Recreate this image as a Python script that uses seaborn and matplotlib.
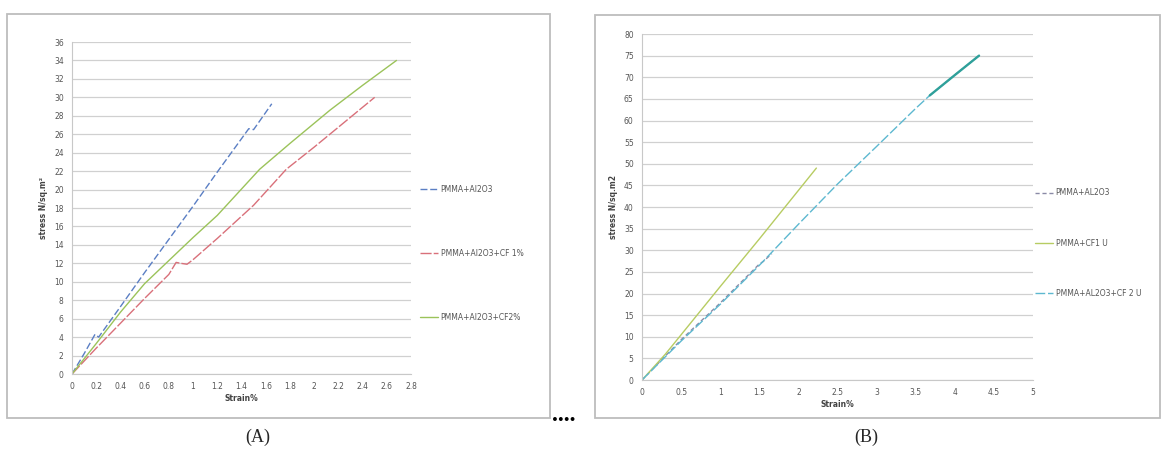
import matplotlib
matplotlib.use('Agg')
import matplotlib.pyplot as plt
from matplotlib.patches import Rectangle
import seaborn as sns

# Panel A data (strain %, stress)
a_al2o3_x = [0, 0.1, 0.19, 0.22, 0.4, 0.6, 0.8, 1.0, 1.2, 1.46, 1.5, 1.65]
a_al2o3_y = [0, 2.2, 4.3, 4.0, 7.3, 11.0, 14.6, 18.2, 21.9, 26.6, 26.5, 29.3]
a_cf1_x = [0, 0.2, 0.4, 0.6, 0.8, 0.86, 0.9, 0.95, 1.0, 1.2, 1.5, 1.77, 2.0, 2.25, 2.5]
a_cf1_y = [0, 2.8, 5.5, 8.2, 10.8, 12.1, 12.0, 11.9, 12.4, 14.7, 18.3, 22.2, 24.6, 27.3, 30.0]
a_cf2_x = [0, 0.2, 0.4, 0.6, 0.8, 1.0, 1.2, 1.55, 1.8, 2.13, 2.4, 2.68]
a_cf2_y = [0, 3.3, 6.7, 9.8, 12.3, 14.8, 17.2, 22.2, 25.0, 28.6, 31.3, 34.0]
a_labels = ['PMMA+Al2O3', 'PMMA+Al2O3+CF 1%', 'PMMA+Al2O3+CF2%']

# Panel B data
b_al2o3_x = [0, 0.5, 1.0, 1.5, 1.55, 1.66]
b_al2o3_y = [0, 9.3, 17.8, 26.8, 27.4, 29.2]
b_cf1_x = [0, 0.3, 1.0, 1.5, 2.23]
b_cf1_y = [0, 6.0, 21.6, 32.6, 49.0]
b_cf2_x = [0, 0.5, 1.0, 1.5, 2.0, 2.5, 3.0, 3.5, 3.68, 4.0, 4.31]
b_cf2_y = [0, 9.0, 17.5, 26.5, 36.0, 45.3, 54.0, 62.8, 65.8, 70.5, 75.0]
b_labels = ['PMMA+AL2O3', 'PMMA+CF1 U', 'PMMA+AL2O3+CF 2 U']

sns.set_style('white')
plt.rcParams['font.family'] = ['DejaVu Sans']

fig = plt.figure(figsize=(11.64, 4.71), dpi=100)
W, H = 1164, 471


def px_axes(l, t, r, b):
    return fig.add_axes([l / W, 1 - b / H, (r - l) / W, (b - t) / H])


def style_axes(ax, xmax, xstep, ymax, ystep, ylabel):
    ax.set_xlim(0, xmax)
    ax.set_ylim(0, ymax)
    xt = [round(i * xstep, 2) for i in range(int(round(xmax / xstep)) + 1)]
    yt = [round(i * ystep, 2) for i in range(int(round(ymax / ystep)) + 1)]
    ax.set_xticks(xt)
    ax.set_yticks(yt)
    ax.set_xticklabels([f'{v:g}' for v in xt])
    ax.set_yticklabels([f'{v:g}' for v in yt])
    ax.tick_params(labelsize=5.5, colors='#555555', length=0, pad=6)
    ax.yaxis.grid(True, color='#D0D0D0', lw=0.9)
    ax.xaxis.grid(False)
    for s in ['top', 'right']:
        ax.spines[s].set_visible(False)
    ax.spines['left'].set_color('#C8C8C8')
    ax.spines['bottom'].set_color('#C8C8C8')
    ax.set_xlabel('Strain%', fontsize=5.5, fontweight='bold', color='#444444', labelpad=2)
    ax.set_ylabel(ylabel, fontsize=5.5, fontweight='bold', color='#444444', labelpad=4)


# panel frames
fig.patches.append(Rectangle((7 / W, 1 - 418 / H), 543 / W, 404 / H, transform=fig.transFigure,
                             fill=False, edgecolor='#BDBDBD', lw=1.3))
fig.patches.append(Rectangle((595 / W, 1 - 418 / H), 565 / W, 403 / H, transform=fig.transFigure,
                             fill=False, edgecolor='#BDBDBD', lw=1.3))

# Panel A
axA = px_axes(72, 42, 411, 374)
sns.lineplot(x=a_al2o3_x, y=a_al2o3_y, ax=axA, color='#5B7FC4', lw=1.0, linestyle=(0, (5, 2)),
             label=a_labels[0], sort=False, estimator=None)
sns.lineplot(x=a_cf1_x, y=a_cf1_y, ax=axA, color='#D9707A', lw=1.0, linestyle=(0, (8, 1.5)),
             label=a_labels[1], sort=False, estimator=None)
sns.lineplot(x=a_cf2_x, y=a_cf2_y, ax=axA, color='#9BC35A', lw=1.0,
             label=a_labels[2], sort=False, estimator=None)
style_axes(axA, 2.8, 0.2, 36, 2, 'stress N/sq.m²')
axA.legend(loc='center left', bbox_to_anchor=(420 / W, 1 - 253 / H), bbox_transform=fig.transFigure,
           frameon=False, fontsize=5.5, labelspacing=7.2, handlelength=2.4, handletextpad=0.3,
           borderpad=0, borderaxespad=0, labelcolor='#555555')

# Panel B
axB = px_axes(642, 34, 1033, 380)
sns.lineplot(x=b_al2o3_x, y=b_al2o3_y, ax=axB, color='#8A8AA6', lw=1.0, linestyle=(0, (3, 2)),
             label=b_labels[0], sort=False, estimator=None)
sns.lineplot(x=b_cf1_x, y=b_cf1_y, ax=axB, color='#B7CC62', lw=1.0,
             label=b_labels[1], sort=False, estimator=None)
sns.lineplot(x=b_cf2_x, y=b_cf2_y, ax=axB, color='#5DB8D0', lw=1.0, linestyle=(0, (7, 2)),
             label=b_labels[2], sort=False, estimator=None)
# thicker end portion of the CF 2 U curve
sns.lineplot(x=b_cf2_x[-3:], y=b_cf2_y[-3:], ax=axB, color='#2FA09A', lw=1.7,
             sort=False, estimator=None, legend=False)
style_axes(axB, 5, 0.5, 80, 5, 'stress N/sq.m2')
axB.legend(axB.get_lines()[:3], b_labels, loc='center left', bbox_to_anchor=(1035 / W, 1 - 243 / H),
           bbox_transform=fig.transFigure, frameon=False, fontsize=5.5, labelspacing=5.4,
           handlelength=2.4, handletextpad=0.3, borderpad=0, borderaxespad=0, labelcolor='#555555')

# captions and separator dots
fig.text(552 / W, 1 - 421 / H, '....', fontsize=17, fontweight='bold', color='black',
         ha='left', va='baseline', family='Liberation Serif')
fig.text(258 / W, 1 - 437 / H, '(A)', fontsize=13, ha='center', va='center', family='Liberation Serif')
fig.text(866 / W, 1 - 437 / H, '(B)', fontsize=13, ha='center', va='center', family='Liberation Serif')

fig.savefig('out.png', dpi=100)
